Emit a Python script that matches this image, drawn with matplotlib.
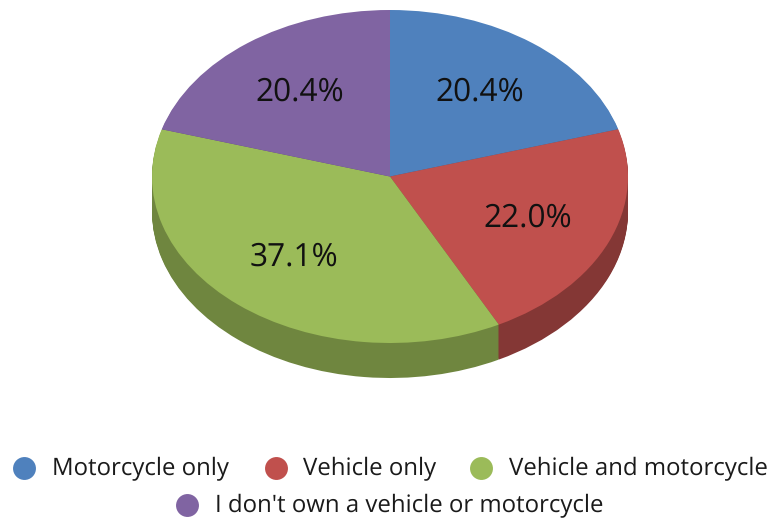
import matplotlib.pyplot as plt

plt.rcParams['font.family'] = ['Open Sans', 'DejaVu Sans']
plt.rcParams['text.hinting'] = 'no_hinting'

# Data
labels = ['Motorcycle only', 'Vehicle only', 'Vehicle and motorcycle',
          "I don't own a vehicle or motorcycle"]
values = [20.4, 22.0, 37.1, 20.4]
colors = ['#4F81BD', '#C0504D', '#9BBB59', '#8064A2']
side_colors = ['#3A5F8B', '#843735', '#6F863F', '#5C4776']

W, H = 773, 519
RX, RY = 238, 166.5
squash = RY / RX

fig = plt.figure(figsize=(W / 100, H / 100), dpi=100)

# Pie axes: x in pixels, y stretched so that the circle comes out as an ellipse
ax = fig.add_axes([0, 0, 1, 1])
cx = 390
cy = (H - 176.5) / squash
depth = 35

# side of the pie: the same pie stacked downwards in the darker colours
for d in range(depth, 0, -1):
    ax.pie(values, colors=side_colors, startangle=90, counterclock=False,
           radius=RX, center=(cx, cy - d / squash))

wedges, texts, autotexts = ax.pie(
    values, colors=colors, startangle=90, counterclock=False, radius=RX,
    center=(cx, cy), autopct='%.1f%%', pctdistance=0.63,
    textprops={'fontsize': 22.8, 'color': '#111111'})

ax.set_aspect('auto')
ax.set_xlim(0, W)
ax.set_ylim(0, H / squash)

# Legend, in pixel coordinates
lg = fig.add_axes([0, 0, 1, 1])
lg.set_xlim(0, W)
lg.set_ylim(H, 0)
lg.axis('off')
mx = [24, 276, 481, 187]
my = [467.5, 467.5, 467.5, 504.5]
tx = [52, 303, 509, 215]
for i in range(4):
    lg.plot(mx[i], my[i], marker='o', color=colors[i], ms=16.5, mew=0, ls='none')
    lg.text(tx[i], my[i] + 1, labels[i], fontsize=17.3, color='#1a1a1a',
            va='center', ha='left')

plt.savefig('out.png', dpi=100)
